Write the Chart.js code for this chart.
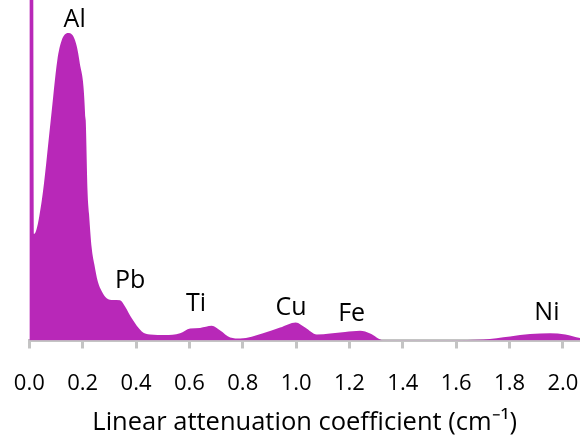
<!DOCTYPE html>
<html>
<head>
<meta charset="utf-8">
<script src="https://cdn.jsdelivr.net/npm/chart.js@4.4.1/dist/chart.umd.min.js"></script>
<style>
  html, body { margin: 0; padding: 0; background: #ffffff; }
</style>
</head>
<body>
<canvas id="attenuation-chart" width="580" height="440"></canvas>
<script>
// linear attenuation coefficient (cm^-1) and relative frequency (% of plot height)
const coeff = [
  0.000, 0.0135, 0.0176, 0.0465, 0.0802, 0.105, 0.1215, 0.1462, 0.1714, 0.1875,
  0.2115, 0.2182, 0.2238, 0.234, 0.2437, 0.2565, 0.2715, 0.290, 0.3138, 0.340,
  0.3588, 0.384, 0.4215, 0.4526, 0.5088, 0.565, 0.6026, 0.640, 0.684, 0.7156,
  0.7531, 0.7906, 0.876, 0.940, 0.9989, 1.0338, 1.0776, 1.1275, 1.1837, 1.240,
  1.2775, 1.3262, 1.465, 1.701, 1.802, 1.877, 1.952, 2.009, 2.064
];
const freq = [
  130, 130, 31.3, 41.0, 64.6, 82.3, 88.2, 90.3, 88.2, 82.3,
  64.6, 44.0, 37.2, 27.1, 22.4, 17.4, 14.45, 12.4, 11.9, 11.8,
  10.0, 6.5, 2.65, 1.77, 1.6, 2.15, 3.54, 3.7, 4.3, 2.95,
  0.9, 0.6, 2.15, 3.8, 5.3, 3.8, 1.77, 2.06, 2.5, 2.86,
  2.06, 0.1, 0.05, 0.3, 1.2, 1.9, 2.15, 1.77, 0.7
];

const xTicks = [0.0, 0.2, 0.4, 0.6, 0.8, 1.0, 1.2, 1.4, 1.6, 1.8, 2.0];

// element names and where their labels sit (data units)
const peakNames = ['Al', 'Pb', 'Ti', 'Cu', 'Fe', 'Ni'];
const peakX = [0.170, 0.378, 0.625, 0.981, 1.208, 1.940];
const peakY = [94.1, 17.4, 10.7, 9.7, 7.8, 8.1];

const points = coeff.map((c, i) => ({ x: c, y: freq[i] }));

const peakLabels = {
  id: 'peakLabels',
  afterDatasetsDraw(chart) {
    const { ctx, scales: { x, y } } = chart;
    ctx.save();
    ctx.font = '25px "Open Sans"';
    ctx.fillStyle = '#000000';
    ctx.textAlign = 'center';
    ctx.textBaseline = 'middle';
    peakNames.forEach((name, i) => {
      ctx.fillText(name, x.getPixelForValue(peakX[i]), y.getPixelForValue(peakY[i]));
    });
    ctx.restore();
  }
};

const ctx = document.getElementById('attenuation-chart').getContext('2d');

new Chart(ctx, {
  type: 'line',
  plugins: [peakLabels],
  data: {
    datasets: [
      {
        data: points,
        backgroundColor: '#b828b8',
        borderWidth: 0,
        pointRadius: 0,
        fill: 'origin',
        cubicInterpolationMode: 'monotone',
      },
    ],
  },
  options: {
    responsive: false,
    animation: false,
    layout: {
      padding: 0,
    },
    scales: {
      x: {
        type: 'linear',
        min: 0,
        max: 2.064,
        afterBuildTicks: (axis) => {
          axis.ticks = xTicks.map(v => ({ value: v }));
        },
        afterFit: (axis) => {
          // pin the plot area: left edge at 0.0, right edge at the canvas edge
          axis.height = 99.5;
          axis.paddingLeft = 29.3;
          axis.paddingRight = 0;
        },
        grid: {
          drawOnChartArea: false,
          drawTicks: true,
          tickLength: 8,
          tickWidth: 3,
          tickColor: '#c4c4c4',
        },
        border: {
          color: '#c4c4c4',
          width: 3,
        },
        ticks: {
          padding: 22,
          color: '#000000',
          maxRotation: 0,
          font: { family: 'Open Sans', size: 22 },
          callback: (value) => value.toFixed(1),
        },
        title: {
          display: true,
          text: 'Linear attenuation coefficient (cm\u207B\u00B9)',
          color: '#000000',
          font: { family: 'Open Sans', size: 25.5 },
          padding: { top: 4, bottom: 2 },
        },
      },
      y: {
        display: false,
        min: 0,
        max: 100,
      },
    },
    plugins: {
      legend: { display: false },
      tooltip: { enabled: false },
    },
  },
});
</script>
</body>
</html>
